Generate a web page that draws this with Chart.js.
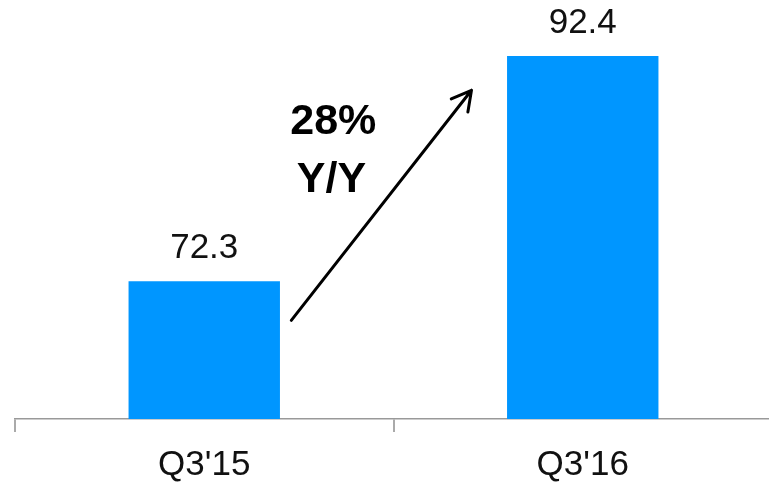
<!DOCTYPE html>
<html>
<head>
<meta charset="utf-8">
<script src="https://cdn.jsdelivr.net/npm/chart.js@4.4.1/dist/chart.umd.min.js"></script>
<style>
  html, body { margin: 0; padding: 0; background: #fff; overflow: hidden; }
  #wrap { width: 773px; height: 487px; }
</style>
</head>
<body>
<div id="wrap"><canvas id="revChart"></canvas></div>
<script>
// quarterly values
const quarters = ["Q3'15", "Q3'16"];
const revenue = [72.3, 92.4];
const growthText = ["28%", "Y/Y"];

const FONT = "'Liberation Sans', Helvetica, Arial, sans-serif";

// value labels above bars + the growth arrow with its caption
const annotate = {
    id: "annotate",
    afterDatasetsDraw(chart) {
        const ctx = chart.ctx;
        const x = chart.scales.x;
        const y = chart.scales.y;
        const meta = chart.getDatasetMeta(0);

        ctx.save();
        ctx.fillStyle = "#111";
        ctx.textAlign = "center";
        ctx.textBaseline = "middle";
        ctx.font = "300 35px " + FONT;
        meta.data.forEach((bar, i) => {
            ctx.fillText(revenue[i].toFixed(1), bar.x, bar.y - 33);
        });

        // arrow from the first bar up toward the second
        const x0 = x.getPixelForValue(0.23), y0 = y.getPixelForValue(68.8);
        const x1 = x.getPixelForValue(0.706), y1 = y.getPixelForValue(89.35);
        const ang = Math.atan2(y1 - y0, x1 - x0);
        const head = 22;
        ctx.strokeStyle = "#000";
        ctx.lineWidth = 3;
        ctx.lineCap = "round";
        ctx.lineJoin = "round";
        ctx.beginPath();
        ctx.moveTo(x0, y0);
        ctx.lineTo(x1, y1);
        ctx.moveTo(x1 - head * Math.cos(ang - 0.5), y1 - head * Math.sin(ang - 0.5));
        ctx.lineTo(x1, y1);
        ctx.lineTo(x1 - head * Math.cos(ang + 0.5), y1 - head * Math.sin(ang + 0.5));
        ctx.stroke();

        ctx.fillStyle = "#000";
        ctx.font = "bold 43px " + FONT;
        ctx.fillText(growthText[0], x.getPixelForValue(0.341), y.getPixelForValue(86.5));
        ctx.fillText(growthText[1], x.getPixelForValue(0.336), y.getPixelForValue(81.3));
        ctx.restore();
    }
};

new Chart(document.getElementById("revChart"), {
    type: "bar",
    data: {
        labels: quarters,
        datasets: [{
            data: revenue,
            backgroundColor: "#0096ff",
            borderWidth: 0,
            barPercentage: 0.4,
            categoryPercentage: 1.0
        }]
    },
    options: {
        responsive: true,
        maintainAspectRatio: false,
        animation: false,
        layout: { padding: { top: 27, left: 15, right: 1, bottom: 0 } },
        plugins: { legend: { display: false }, tooltip: { enabled: false } },
        scales: {
            x: {
                afterFit(scale) { scale.height = 68; },
                grid: {
                    offset: true,
                    drawOnChartArea: false,
                    tickLength: 13,
                    color: "#aaa",
                    lineWidth: 2
                },
                border: { color: "#999", width: 1.5 },
                ticks: {
                    padding: 12,
                    color: "#111",
                    font: { family: FONT, size: 35, weight: "300" }
                }
            },
            y: {
                display: false,
                min: 60,
                max: 95
            }
        }
    },
    plugins: [annotate]
});
</script>
</body>
</html>
